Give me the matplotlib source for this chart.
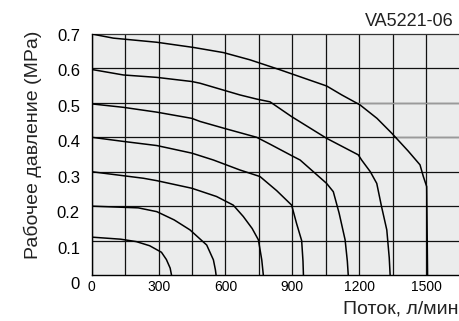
import matplotlib
matplotlib.use('Agg')
import matplotlib.pyplot as plt
from matplotlib.transforms import ScaledTranslation

plt.rcParams['font.family'] = ['Liberation Sans', 'DejaVu Sans']

# Flow (l/min) vs working pressure (MPa), one curve per set pressure
flow_01 = [0, 130, 200, 260, 313, 335, 352, 358]
pres_01 = [0.11, 0.104, 0.097, 0.085, 0.066, 0.045, 0.02, 0]

flow_02 = [0, 209, 292, 370, 441, 516, 546, 555, 558]
pres_02 = [0.2, 0.195, 0.184, 0.16, 0.131, 0.087, 0.044, 0.015, 0]

flow_03 = [0, 232, 292, 449, 560, 635, 680, 720, 748, 763, 770]
pres_03 = [0.3, 0.281, 0.274, 0.252, 0.228, 0.203, 0.17, 0.135, 0.102, 0.044, 0]

flow_04 = [0, 142, 292, 449, 546, 665, 755, 830, 897, 919, 942, 948, 950]
pres_04 = [0.4, 0.388, 0.376, 0.354, 0.334, 0.305, 0.286, 0.245, 0.203, 0.15, 0.1, 0.04, 0]

flow_05 = [0, 142, 292, 449, 486, 600, 740, 800, 905, 935, 1054, 1084, 1110, 1137, 1147, 1151]
pres_05 = [0.497, 0.487, 0.473, 0.455, 0.446, 0.425, 0.4, 0.38, 0.344, 0.334, 0.266, 0.242, 0.18, 0.102, 0.04, 0]

flow_06 = [0, 142, 292, 449, 486, 665, 740, 800, 897, 1054, 1196, 1211, 1250, 1279, 1300, 1324, 1335, 1339]
pres_06 = [0.597, 0.581, 0.574, 0.562, 0.557, 0.523, 0.511, 0.503, 0.46, 0.397, 0.349, 0.334, 0.3, 0.266, 0.2, 0.131, 0.05, 0]

flow_07 = [0, 97, 292, 456, 591, 710, 845, 1054, 1122, 1204, 1280, 1346, 1420, 1473, 1488, 1503, 1507]
pres_07 = [0.7, 0.688, 0.676, 0.661, 0.646, 0.625, 0.596, 0.549, 0.523, 0.494, 0.455, 0.412, 0.36, 0.32, 0.286, 0.257, 0]

curves = [(flow_01, pres_01), (flow_02, pres_02), (flow_03, pres_03), (flow_04, pres_04),
          (flow_05, pres_05), (flow_06, pres_06), (flow_07, pres_07)]

x_ticks = [0, 300, 600, 900, 1200, 1500]
x_grid = [150, 450, 750, 1050, 1350]
y_ticks = [0, 0.1, 0.2, 0.3, 0.4, 0.5, 0.6, 0.7]
y_labels = ['0', '0.1', '0.2', '0.3', '0.4', '0.5', '0.6', '0.7']

fig = plt.figure(figsize=(4.59, 3.21), dpi=100)
ax = fig.add_axes([0.1998, 0.1433, 0.8002, 0.7508])
ax.set_facecolor('#ebecec')

ax.set_xlim(0, 1648)
ax.set_ylim(0, 0.7)

# grid
for x in x_ticks + x_grid:
    ax.axvline(x, color='#111111', lw=0.9, zorder=1)
for y in y_ticks[1:-1]:
    ax.axhline(y, color='#111111', lw=0.9, zorder=1)
# lighter stretches of the 0.5 / 0.4 lines on the right
ax.axhline(0.5, xmin=1200 / 1648, color='#9a9a9a', lw=1.0, zorder=1.5)
ax.axhline(0.4, xmin=1370 / 1648, color='#9a9a9a', lw=1.0, zorder=1.5)

for fx, py in curves:
    ax.plot(fx, py, color='black', lw=1.1, zorder=3)

ax.set_xticks(x_ticks)
ax.set_xticklabels([str(v) for v in x_ticks], fontsize=10)
ax.set_yticks(y_ticks)
ax.set_yticklabels(y_labels, fontsize=12)
ax.tick_params(axis='both', length=0)
ax.tick_params(axis='x', pad=3.5)
ax.tick_params(axis='y', pad=8.5)

# y tick labels sit a little lower towards the bottom
for v, lab in zip(y_ticks, ax.get_yticklabels()):
    off = (8.3 - 10.5 * v) / 100
    lab.set_transform(lab.get_transform() + ScaledTranslation(0, -off, fig.dpi_scale_trans))

for s in ['left', 'bottom']:
    ax.spines[s].set_color('black')
    ax.spines[s].set_linewidth(1.0)
ax.spines['top'].set_color('#333333')
ax.spines['top'].set_linewidth(0.9)
ax.spines['right'].set_visible(False)

fig.text(0.989, 0.919, 'VA5221-06', fontsize=13, ha='right', va='baseline', color='#222222')
fig.text(0.071, 0.548, 'Рабочее давление (MPa)', fontsize=14, rotation=90,
         ha='center', va='center', color='#222222')
fig.text(0.998, 0.022, 'Поток, л/мин', fontsize=14, ha='right', va='baseline', color='#222222')

fig.savefig('out.png', dpi=100)
